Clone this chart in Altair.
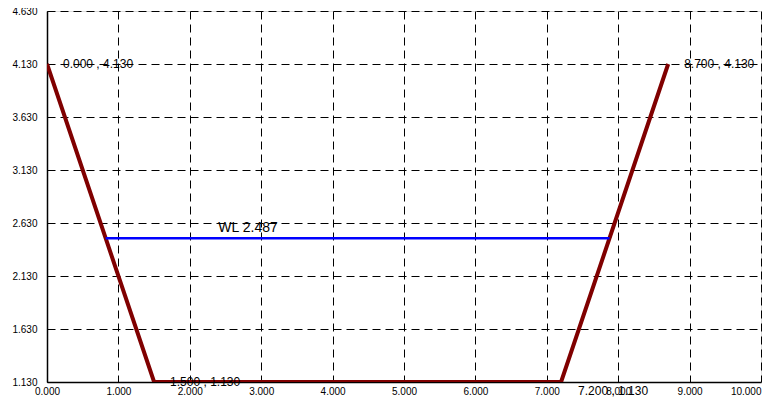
import altair as alt
import pandas as pd

# cross-section points
sec_x = [0.0, 1.5, 7.2, 8.7]
sec_y = [4.13, 1.13, 1.13, 4.13]
# water level
wl_value = 2.487
wl_x = [0.8215, 7.8785]
x_ticks = [0, 1, 2, 3, 4, 5, 6, 7, 8, 9, 10]
y_ticks = [1.13, 1.63, 2.13, 2.63, 3.13, 3.63, 4.13, 4.63]

sec = pd.DataFrame({"x": sec_x, "y": sec_y, "order": list(range(len(sec_x)))})
sec["label"] = [f"{a:.3f} , {b:.3f}" for a, b in zip(sec_x, sec_y)]
wl = pd.DataFrame({"x": wl_x, "y": [wl_value] * 2})
wl_lab = pd.DataFrame({"x": [2.4], "y": [wl_value], "label": [f"WL {wl_value:.3f}"]})

xs = alt.Scale(domain=[0, 10], nice=False, zero=False)
ys = alt.Scale(domain=[1.13, 4.63], nice=False, zero=False)

xax = alt.Axis(values=x_ticks, format=".3f", grid=True, gridColor="black", gridDash=[8, 5],
               gridWidth=1, gridOpacity=1, ticks=False, domainColor="black", domainWidth=1.5,
               labelFont="Liberation Sans", labelFontSize=10, labelColor="black", labelPadding=4,
               labelAlign={"condition": {"test": "datum.value == 10", "value": "right"}, "value": "center"},
               title=None)
yax = alt.Axis(values=y_ticks, format=".3f", grid=True, gridColor="black", gridDash=[8, 5],
               gridWidth=1, gridOpacity=1, ticks=False, domainColor="black", domainWidth=1.5,
               labelFont="Liberation Sans", labelFontSize=10, labelColor="black", labelPadding=10,
               title=None)

base_x = alt.X("x:Q", scale=xs, axis=xax)
base_y = alt.Y("y:Q", scale=ys, axis=yax)

line = alt.Chart(sec).mark_line(color="#800000", strokeWidth=4, clip=True).encode(
    x=base_x, y=base_y, order="order:Q")

wl_line = alt.Chart(wl).mark_line(color="#0000ff", strokeWidth=2.5).encode(
    x=alt.X("x:Q", scale=xs), y=alt.Y("y:Q", scale=ys))

wl_text = alt.Chart(wl_lab).mark_text(align="left", dy=-10, fontSize=14,
                                     font="Liberation Sans", color="black").encode(
    x=alt.X("x:Q", scale=xs), y=alt.Y("y:Q", scale=ys), text="label:N")

lab_main = alt.Chart(sec[sec["order"] != 2]).mark_text(align="left", dx=16, fontSize=12,
                                                       font="Liberation Sans", color="black").encode(
    x=alt.X("x:Q", scale=xs), y=alt.Y("y:Q", scale=ys), text="label:N")
lab_low = alt.Chart(sec[sec["order"] == 2]).mark_text(align="left", dx=17, dy=9, fontSize=12,
                                                      font="Liberation Sans", color="black").encode(
    x=alt.X("x:Q", scale=xs), y=alt.Y("y:Q", scale=ys), text="label:N")

chart = alt.layer(line, wl_line, wl_text, lab_main, lab_low).properties(
    width=714, height=371,
    autosize=alt.AutoSizeParams(type="none"),
    padding={"left": 39, "top": 3, "right": 4, "bottom": 16},
).configure_view(stroke=None).configure(background="white")

chart.save("out.html", embed_options={"renderer": "svg", "actions": False})
